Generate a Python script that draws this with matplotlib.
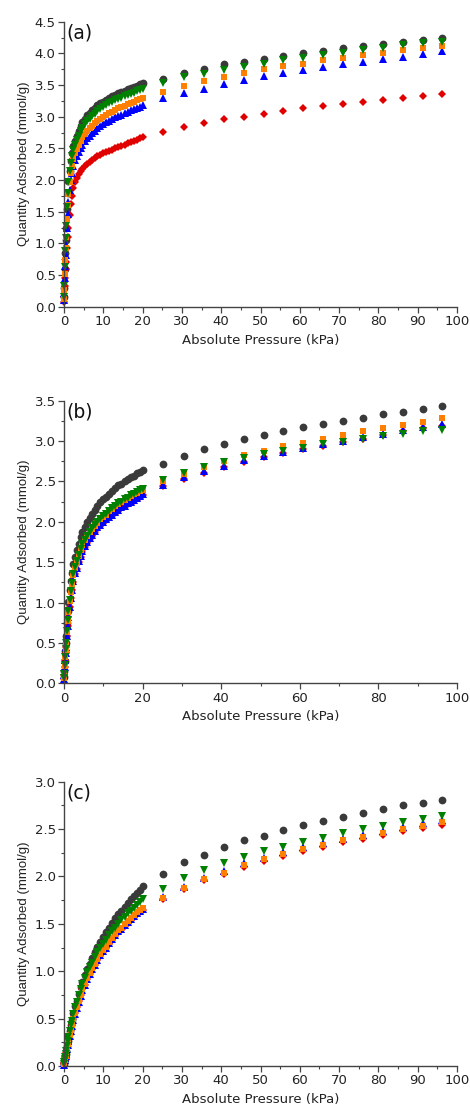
import matplotlib
matplotlib.use("Agg")
import matplotlib.pyplot as plt
from matplotlib.ticker import MultipleLocator

plt.rcParams['font.family'] = ['DejaVu Sans']

# Absolute pressure (kPa), shared by all series
pressure = [0.05, 0.1, 0.2, 0.3, 0.4, 0.5, 0.7, 0.9, 1.1, 1.4,
            1.7, 2.0, 2.4, 2.8, 3.2, 3.7, 4.2, 4.7, 5.3, 5.9,
            6.5, 7.1, 7.8, 8.5, 9.2, 9.9, 10.6, 11.4, 12.2, 13.0,
            13.8, 14.6, 15.4, 16.2, 17.0, 17.8, 18.6, 19.4, 20.2,
            25.1, 30.6, 35.7, 40.7, 45.7, 50.8, 55.8, 60.9, 66.0, 71.1,
            76.2, 81.2, 86.2, 91.3, 96.3]

# ---- panel (a) ----
a_grey = [0.15, 0.30, 0.60, 0.85, 1.05, 1.25, 1.55, 1.80, 1.98, 2.15,
          2.30, 2.42, 2.53, 2.62, 2.70, 2.78, 2.85, 2.91, 2.97, 3.02,
          3.06, 3.10, 3.14, 3.18, 3.21, 3.24, 3.27, 3.30, 3.32, 3.35,
          3.37, 3.39, 3.41, 3.43, 3.45, 3.47, 3.49, 3.51, 3.53,
          3.60, 3.69, 3.76, 3.83, 3.87, 3.91, 3.96, 4.00, 4.04, 4.08, 4.11, 4.15, 4.18, 4.21, 4.24]
a_green = [0.15, 0.32, 0.62, 0.88, 1.08, 1.28, 1.57, 1.80, 1.97, 2.14,
           2.27, 2.38, 2.48, 2.56, 2.63, 2.70, 2.77, 2.82, 2.88, 2.93,
           2.97, 3.01, 3.05, 3.09, 3.12, 3.15, 3.18, 3.21, 3.23, 3.26,
           3.28, 3.30, 3.32, 3.34, 3.36, 3.38, 3.40, 3.42, 3.44,
           3.53, 3.62, 3.67, 3.74, 3.79, 3.84, 3.90, 3.93, 3.97, 4.01, 4.05, 4.09, 4.13, 4.16, 4.18]
a_orange = [0.12, 0.26, 0.52, 0.74, 0.93, 1.10, 1.38, 1.60, 1.78, 1.97,
            2.11, 2.22, 2.33, 2.42, 2.49, 2.56, 2.62, 2.68, 2.73, 2.78,
            2.82, 2.86, 2.90, 2.94, 2.97, 3.00, 3.03, 3.06, 3.08, 3.11,
            3.13, 3.15, 3.17, 3.20, 3.22, 3.24, 3.26, 3.28, 3.30,
            3.39, 3.48, 3.56, 3.62, 3.69, 3.75, 3.80, 3.84, 3.89, 3.93, 3.97, 4.01, 4.05, 4.08, 4.12]
a_blue = [0.10, 0.22, 0.45, 0.65, 0.82, 0.98, 1.25, 1.47, 1.65, 1.85,
          2.00, 2.11, 2.22, 2.31, 2.38, 2.45, 2.51, 2.56, 2.62, 2.66,
          2.70, 2.74, 2.78, 2.82, 2.85, 2.88, 2.91, 2.94, 2.96, 2.99,
          3.01, 3.03, 3.06, 3.08, 3.10, 3.12, 3.14, 3.16, 3.18,
          3.30, 3.37, 3.44, 3.51, 3.58, 3.64, 3.69, 3.74, 3.79, 3.83, 3.87, 3.91, 3.95, 3.99, 4.03]
a_red = [0.08, 0.16, 0.32, 0.46, 0.59, 0.71, 0.92, 1.10, 1.25, 1.45,
         1.62, 1.75, 1.88, 1.97, 2.03, 2.09, 2.14, 2.18, 2.22, 2.26,
         2.29, 2.32, 2.35, 2.38, 2.40, 2.42, 2.44, 2.46, 2.48, 2.50,
         2.52, 2.54, 2.56, 2.58, 2.60, 2.62, 2.64, 2.66, 2.68,
         2.76, 2.83, 2.90, 2.96, 3.00, 3.04, 3.09, 3.13, 3.17, 3.20, 3.24, 3.27, 3.30, 3.33, 3.36]

# ---- panel (b) ----
b_grey = [0.08, 0.15, 0.28, 0.40, 0.50, 0.58, 0.75, 0.89, 1.01, 1.15,
          1.27, 1.37, 1.48, 1.57, 1.65, 1.73, 1.81, 1.87, 1.94, 2.00,
          2.05, 2.10, 2.15, 2.20, 2.24, 2.28, 2.31, 2.35, 2.38, 2.42,
          2.45, 2.47, 2.50, 2.53, 2.55, 2.57, 2.60, 2.62, 2.64,
          2.72, 2.81, 2.90, 2.96, 3.02, 3.07, 3.12, 3.17, 3.21, 3.25, 3.29, 3.33, 3.36, 3.40, 3.43]
b_green = [0.06, 0.12, 0.23, 0.33, 0.42, 0.50, 0.65, 0.78, 0.89, 1.03,
           1.14, 1.24, 1.35, 1.44, 1.51, 1.59, 1.66, 1.72, 1.78, 1.83,
           1.88, 1.92, 1.96, 2.00, 2.04, 2.07, 2.10, 2.14, 2.17, 2.20,
           2.23, 2.25, 2.28, 2.30, 2.33, 2.35, 2.37, 2.39, 2.41,
           2.52, 2.60, 2.68, 2.74, 2.79, 2.84, 2.88, 2.92, 2.96, 2.99, 3.02, 3.06, 3.09, 3.12, 3.14]
b_orange = [0.06, 0.12, 0.22, 0.32, 0.41, 0.49, 0.64, 0.77, 0.88, 1.02,
            1.13, 1.23, 1.34, 1.43, 1.50, 1.58, 1.65, 1.71, 1.77, 1.82,
            1.87, 1.91, 1.95, 1.99, 2.03, 2.06, 2.09, 2.13, 2.16, 2.19,
            2.22, 2.24, 2.27, 2.29, 2.32, 2.34, 2.36, 2.38, 2.40,
            2.50, 2.59, 2.68, 2.75, 2.83, 2.88, 2.94, 2.98, 3.03, 3.08, 3.12, 3.16, 3.20, 3.24, 3.28]
b_blue = [0.05, 0.10, 0.20, 0.29, 0.37, 0.45, 0.59, 0.71, 0.82, 0.95,
          1.06, 1.16, 1.27, 1.36, 1.43, 1.51, 1.58, 1.64, 1.70, 1.75,
          1.80, 1.84, 1.89, 1.93, 1.96, 2.00, 2.03, 2.06, 2.09, 2.12,
          2.15, 2.18, 2.20, 2.23, 2.25, 2.27, 2.30, 2.32, 2.34,
          2.46, 2.55, 2.63, 2.69, 2.76, 2.81, 2.86, 2.91, 2.96, 3.00, 3.05, 3.09, 3.14, 3.17, 3.21]
b_red = [0.05, 0.10, 0.20, 0.29, 0.37, 0.45, 0.59, 0.71, 0.82, 0.95,
         1.06, 1.16, 1.26, 1.35, 1.42, 1.50, 1.57, 1.63, 1.69, 1.74,
         1.79, 1.83, 1.88, 1.92, 1.95, 1.99, 2.02, 2.05, 2.08, 2.11,
         2.14, 2.17, 2.19, 2.22, 2.24, 2.26, 2.29, 2.31, 2.33,
         2.44, 2.53, 2.61, 2.68, 2.74, 2.80, 2.85, 2.90, 2.94, 2.99, 3.03, 3.08, 3.12, 3.16, 3.19]

# ---- panel (c) ----
c_grey = [0.02, 0.04, 0.07, 0.10, 0.13, 0.16, 0.21, 0.26, 0.31, 0.37,
          0.43, 0.49, 0.56, 0.63, 0.69, 0.76, 0.83, 0.89, 0.96, 1.02,
          1.08, 1.14, 1.20, 1.26, 1.31, 1.36, 1.41, 1.46, 1.51, 1.56,
          1.60, 1.64, 1.68, 1.72, 1.76, 1.79, 1.83, 1.86, 1.90,
          2.03, 2.15, 2.23, 2.31, 2.38, 2.43, 2.49, 2.54, 2.59, 2.63, 2.67, 2.71, 2.75, 2.78, 2.81]
c_green = [0.02, 0.04, 0.07, 0.10, 0.13, 0.16, 0.21, 0.26, 0.31, 0.37,
           0.43, 0.48, 0.55, 0.62, 0.68, 0.75, 0.81, 0.87, 0.93, 0.99,
           1.04, 1.09, 1.15, 1.20, 1.25, 1.29, 1.33, 1.38, 1.42, 1.46,
           1.50, 1.54, 1.57, 1.61, 1.64, 1.67, 1.70, 1.73, 1.76,
           1.87, 1.98, 2.07, 2.14, 2.21, 2.27, 2.31, 2.36, 2.41, 2.46, 2.50, 2.53, 2.57, 2.61, 2.64]
c_orange = [0.02, 0.03, 0.06, 0.09, 0.11, 0.14, 0.18, 0.23, 0.27, 0.33,
            0.38, 0.43, 0.50, 0.56, 0.62, 0.69, 0.75, 0.81, 0.87, 0.93,
            0.98, 1.03, 1.08, 1.13, 1.18, 1.22, 1.26, 1.31, 1.35, 1.39,
            1.43, 1.46, 1.50, 1.53, 1.56, 1.59, 1.62, 1.65, 1.67,
            1.77, 1.88, 1.97, 2.04, 2.12, 2.18, 2.24, 2.29, 2.33, 2.38, 2.42, 2.46, 2.50, 2.53, 2.57]
c_blue = [0.015, 0.03, 0.06, 0.08, 0.11, 0.13, 0.18, 0.22, 0.26, 0.32,
          0.37, 0.42, 0.49, 0.55, 0.61, 0.68, 0.74, 0.80, 0.86, 0.92,
          0.97, 1.02, 1.07, 1.12, 1.17, 1.21, 1.25, 1.30, 1.34, 1.38,
          1.42, 1.45, 1.49, 1.52, 1.55, 1.58, 1.61, 1.64, 1.66,
          1.78, 1.89, 1.98, 2.06, 2.14, 2.20, 2.26, 2.31, 2.35, 2.40, 2.44, 2.48, 2.52, 2.56, 2.60]
c_red = [0.02, 0.03, 0.06, 0.09, 0.11, 0.14, 0.19, 0.23, 0.27, 0.33,
         0.38, 0.43, 0.50, 0.56, 0.62, 0.69, 0.75, 0.81, 0.86, 0.92,
         0.97, 1.02, 1.07, 1.12, 1.16, 1.20, 1.24, 1.29, 1.33, 1.37,
         1.41, 1.44, 1.48, 1.51, 1.54, 1.57, 1.60, 1.63, 1.65,
         1.76, 1.87, 1.96, 2.03, 2.10, 2.16, 2.22, 2.27, 2.31, 2.36, 2.40, 2.44, 2.48, 2.51, 2.54]

panel_labels = ["(a)", "(b)", "(c)"]
y_max = [4.5, 3.5, 3.0]
x_major = [10, 20, 10]
xlabel = "Absolute Pressure (kPa)"
ylabel = "Quantity Adsorbed (mmol/g)"

panels = [
    [a_grey, a_red, a_blue, a_orange, a_green],
    [b_grey, b_red, b_blue, b_orange, b_green],
    [c_grey, c_red, c_blue, c_orange, c_green],
]
styles = [("o", "#3a3a3a", 5.6),
          ("D", "#e00000", 4.4),
          ("^", "#0000ff", 5.8),
          ("s", "#ff8000", 5.0),
          ("v", "#008000", 5.8)]

W, H = 470, 1115
fig = plt.figure(figsize=(W / 100, H / 100), dpi=100)
boxes = [(64, 21.7, 457, 306.7), (64, 400.7, 457, 683.3), (64, 781.7, 457, 1066)]

text_color = "#222222"
for i, (x0, y0, x1, y1) in enumerate(boxes):
    ax = fig.add_axes([x0 / W, 1 - y1 / H, (x1 - x0) / W, (y1 - y0) / H])
    for series, (m, c, ms) in zip(panels[i], styles):
        ax.plot(pressure, series, linestyle="none", marker=m, color=c,
                markersize=ms, markeredgewidth=0, clip_on=False)
    ax.set_xlim(0, 100)
    ax.set_ylim(0, y_max[i])
    ax.xaxis.set_major_locator(MultipleLocator(x_major[i]))
    ax.xaxis.set_minor_locator(MultipleLocator(x_major[i] / 2))
    ax.yaxis.set_major_locator(MultipleLocator(0.5))
    ax.yaxis.set_minor_locator(MultipleLocator(0.25))
    ax.yaxis.set_major_formatter(plt.FormatStrFormatter("%.1f"))
    for s in ("top", "right"):
        ax.spines[s].set_visible(False)
    for s in ("left", "bottom"):
        ax.spines[s].set_color("#444444")
        ax.spines[s].set_linewidth(1.0)
    ax.tick_params(which="major", direction="out", length=4, width=0.9,
                   color="#444444", labelsize=9.5, labelcolor=text_color, pad=2)
    ax.tick_params(which="minor", direction="out", length=2.5, width=0.8,
                   color="#444444")
    ax.set_xlabel(xlabel, fontsize=9.5, color=text_color, labelpad=4)
    ax.set_ylabel(ylabel, fontsize=9.5, color=text_color, labelpad=3,
                  family=['Liberation Sans', 'DejaVu Sans'])
    ax.text(0.005, 0.995, panel_labels[i], transform=ax.transAxes,
            ha="left", va="top", fontsize=13.5, color="#111111")

fig.savefig("out.png", dpi=100, facecolor="white")
